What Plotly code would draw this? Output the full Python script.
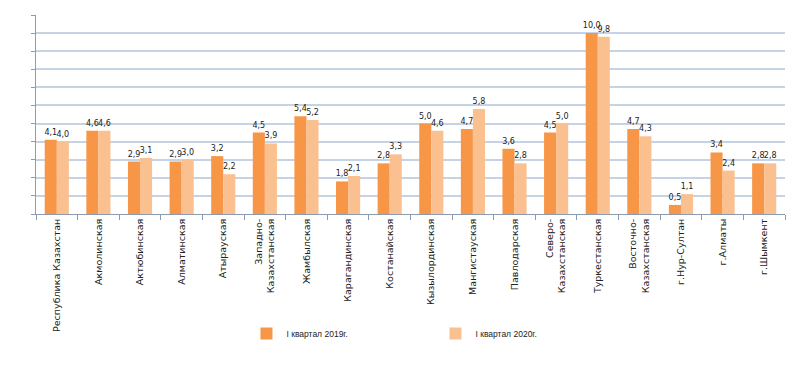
import plotly.graph_objects as go

categories = [
    "Республика Казахстан", "Акмолинская", "Актюбинская", "Алматинская", "Атырауская",
    "Западно-<br>Казахстанская", "Жамбылская", "Карагандинская", "Костанайская",
    "Кызылординская", "Мангистауская", "Павлодарская", "Северо-<br>Казахстанская",
    "Туркестанская", "Восточно-<br>Казахстанская", "г.Нур-Султан", "г.Алматы", "г.Шымкент",
]
values_2019 = [4.1, 4.6, 2.9, 2.9, 3.2, 4.5, 5.4, 1.8, 2.8, 5.0, 4.7, 3.6, 4.5, 10.0, 4.7, 0.5, 3.4, 2.8]
values_2020 = [4.0, 4.6, 3.1, 3.0, 2.2, 3.9, 5.2, 2.1, 3.3, 4.6, 5.8, 2.8, 5.0, 9.8, 4.3, 1.1, 2.4, 2.8]
series_names = ["I квартал 2019г.", "I квартал 2020г."]
colors = ["#F79646", "#FAC090"]


def fmt(v):
    return f"{v:.1f}".replace(".", ",")


fig = go.Figure()
for name, vals, col in zip(series_names, [values_2019, values_2020], colors):
    fig.add_trace(go.Bar(
        x=categories, y=vals, name=name,
        marker=dict(color=col, line=dict(width=0)),
        text=[fmt(v) for v in vals], textposition="outside",
        textfont=dict(family="DejaVu Sans", size=8, color="#222222"),
        constraintext="none",
        cliponaxis=False,
    ))

fig.update_layout(
    width=802, height=360,
    margin=dict(l=28, r=25, t=7, b=154, autoexpand=False),
    paper_bgcolor="white", plot_bgcolor="white",
    barmode="group", bargap=0.42, bargroupgap=0,
    font=dict(family="DejaVu Sans", size=9, color="#222222"),
    showlegend=True,
    legend=dict(
        orientation="h", x=0.281, xanchor="left", y=-0.6, yanchor="middle",
        font=dict(family="Liberation Sans", size=8.5, color="#222222"),
        entrywidth=144, entrywidthmode="pixels",
        itemclick=False,
    ),
)
fig.update_xaxes(
    type="category", tickangle=-90, tickson="boundaries",
    ticks="outside", ticklen=5, tickcolor="#8c9bb0",
    showline=True, linecolor="#8c9bb0", linewidth=1,
    tickfont=dict(family="DejaVu Sans", size=9.5, color="#222222"),
    showgrid=False, automargin=False,
)
fig.update_yaxes(
    range=[0, 11], dtick=1, showticklabels=False,
    ticks="outside", ticklen=4, tickcolor="#8c9bb0",
    showline=True, linecolor="#8c9bb0", linewidth=1,
    showgrid=True, gridcolor="#c6d3e4", gridwidth=1.5,
    zeroline=False, automargin=False,
)

fig.write_html("out.html")
